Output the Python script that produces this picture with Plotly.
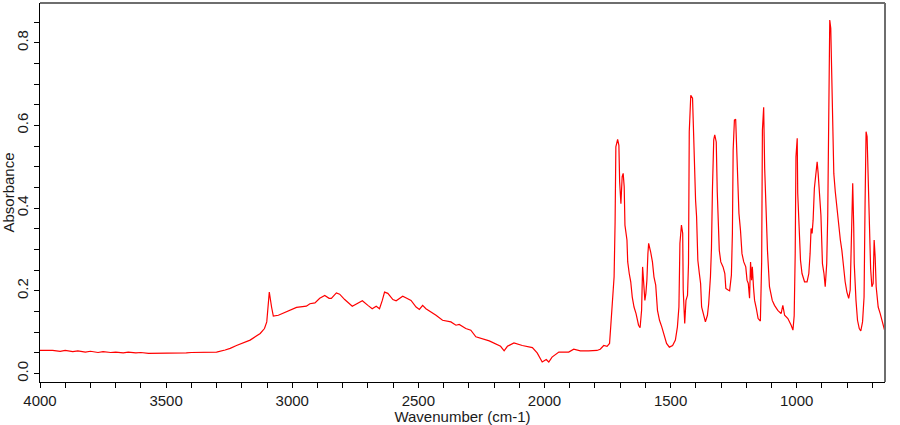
import plotly.graph_objects as go

wavenumber = [
    4000, 3950, 3920, 3900, 3870, 3850, 3820, 3800, 3770, 3750, 3720, 3700, 3670, 3650, 3620,
    3600, 3570, 3550, 3500, 3450, 3420, 3400, 3350, 3300, 3266,
    3246, 3221, 3167, 3127, 3110, 3101, 3095, 3091, 3082, 3075, 3055, 3022, 2983, 2944, 2930,
    2910, 2891, 2871, 2854, 2845, 2825, 2812, 2792, 2762, 2746, 2722, 2700, 2683, 2667, 2654,
    2643, 2634, 2621, 2601, 2588, 2562, 2546, 2529, 2509, 2496, 2483, 2470, 2430, 2404, 2371,
    2351, 2338, 2312, 2292, 2272, 2219, 2174, 2160, 2147, 2121, 2088, 2048, 2029, 2009, 1993,
    1983, 1970, 1943, 1904, 1884, 1858, 1825, 1792, 1779, 1765, 1752, 1742, 1737, 1730, 1724,
    1720, 1717, 1710, 1705, 1702, 1697, 1692, 1688, 1684, 1681, 1673, 1670, 1664, 1658, 1652,
    1645, 1637, 1627, 1621, 1615, 1611, 1607, 1602, 1598, 1594, 1590, 1587, 1579, 1572, 1566,
    1559, 1552, 1544, 1535, 1526, 1516, 1505, 1492, 1481, 1473, 1467, 1463, 1457, 1452, 1450,
    1444, 1439, 1433, 1429, 1426, 1420, 1413, 1410, 1406, 1401, 1397, 1392, 1386, 1381, 1377,
    1371, 1362, 1354, 1349, 1342, 1338, 1334, 1329, 1325, 1319, 1315, 1310, 1307, 1301, 1292,
    1285, 1281, 1272, 1266, 1259, 1255, 1252, 1247, 1242, 1238, 1232, 1229, 1223, 1217, 1210,
    1202, 1197, 1192, 1187, 1183, 1179, 1176, 1171, 1167, 1160, 1153, 1144, 1139, 1136, 1131,
    1127, 1121, 1116, 1108, 1097, 1088, 1075, 1062, 1055, 1048, 1035, 1022, 1015, 1010, 1006,
    1003, 998, 996, 990, 985, 979, 969, 959, 952, 947, 943, 939, 935, 930, 924,
    919, 915, 910, 904, 898, 892, 887, 881, 877, 873, 869, 865, 861, 857, 853,
    847, 840, 834, 827, 821, 814, 808, 801, 794, 788, 782, 778, 774, 772, 765,
    759, 752, 746, 739, 733, 729, 725, 721, 715, 711, 707, 702, 697, 693, 689,
    685, 677, 669, 660, 654, 650,
]

absorbance = [
    0.056, 0.056, 0.054, 0.056, 0.053, 0.055, 0.052, 0.054, 0.051, 0.053, 0.051, 0.052, 0.050, 0.052, 0.050,
    0.051, 0.049, 0.049, 0.049, 0.049, 0.050, 0.051, 0.051, 0.052, 0.057,
    0.061, 0.068, 0.081, 0.097, 0.109, 0.125, 0.170, 0.197, 0.161, 0.139, 0.141, 0.149, 0.160, 0.163, 0.169,
    0.171, 0.182, 0.189, 0.182, 0.182, 0.195, 0.192, 0.179, 0.163, 0.168, 0.176, 0.165, 0.157, 0.163, 0.157,
    0.177, 0.197, 0.194, 0.179, 0.176, 0.187, 0.182, 0.177, 0.161, 0.155, 0.165, 0.157, 0.141, 0.129, 0.125,
    0.117, 0.119, 0.109, 0.105, 0.089, 0.079, 0.066, 0.055, 0.066, 0.074, 0.068, 0.063, 0.050, 0.028, 0.034,
    0.028, 0.040, 0.052, 0.052, 0.059, 0.055, 0.055, 0.056, 0.059, 0.068, 0.066, 0.073, 0.117, 0.177, 0.234,
    0.367, 0.548, 0.566, 0.552, 0.464, 0.411, 0.476, 0.484, 0.452, 0.359, 0.323, 0.270, 0.242, 0.222, 0.185,
    0.161, 0.145, 0.117, 0.111, 0.153, 0.258, 0.210, 0.177, 0.194, 0.226, 0.290, 0.315, 0.294, 0.270, 0.234,
    0.214, 0.153, 0.129, 0.113, 0.093, 0.073, 0.064, 0.068, 0.081, 0.113, 0.161, 0.315, 0.359, 0.339, 0.202,
    0.121, 0.177, 0.189, 0.266, 0.585, 0.673, 0.666, 0.605, 0.500, 0.419, 0.380, 0.274, 0.242, 0.218, 0.161,
    0.145, 0.125, 0.141, 0.169, 0.234, 0.303, 0.448, 0.565, 0.577, 0.560, 0.439, 0.367, 0.298, 0.270, 0.258,
    0.242, 0.206, 0.202, 0.200, 0.238, 0.339, 0.540, 0.613, 0.615, 0.532, 0.460, 0.387, 0.347, 0.290, 0.270,
    0.258, 0.226, 0.218, 0.182, 0.270, 0.226, 0.258, 0.206, 0.177, 0.157, 0.133, 0.127, 0.270, 0.589, 0.644,
    0.496, 0.387, 0.298, 0.210, 0.177, 0.165, 0.153, 0.145, 0.165, 0.141, 0.133, 0.117, 0.105, 0.140, 0.290,
    0.524, 0.569, 0.436, 0.347, 0.274, 0.242, 0.222, 0.222, 0.242, 0.290, 0.351, 0.339, 0.371, 0.448, 0.492,
    0.512, 0.484, 0.427, 0.383, 0.266, 0.242, 0.210, 0.266, 0.383, 0.585, 0.855, 0.835, 0.710, 0.601, 0.484,
    0.439, 0.395, 0.363, 0.323, 0.298, 0.254, 0.222, 0.197, 0.182, 0.202, 0.323, 0.460, 0.355, 0.266, 0.177,
    0.129, 0.109, 0.103, 0.125, 0.185, 0.411, 0.585, 0.573, 0.419, 0.331, 0.254, 0.210, 0.218, 0.323, 0.282,
    0.210, 0.161, 0.145, 0.125, 0.109, 0.101,
]

y_tick_values = [0.0, 0.2, 0.4, 0.6, 0.8]
y_tick_labels = ["0.0", "0.2", "0.4", "0.6", "0.8"]
x_tick_values = [4000, 3500, 3000, 2500, 2000, 1500, 1000]
x_tick_labels = ["4000", "3500", "3000", "2500", "2000", "1500", "1000"]

FONT = "Liberation Sans, Arial, sans-serif"

fig = go.Figure()
fig.add_trace(go.Scatter(
    x=wavenumber, y=absorbance, mode="lines",
    line=dict(color="#ff0000", width=1.2),
    hoverinfo="skip", showlegend=False,
))

fig.update_layout(
    width=900, height=425,
    margin=dict(l=36, r=15, t=3, b=43),
    paper_bgcolor="white", plot_bgcolor="white",
    font=dict(family=FONT, size=15, color="#1a1a1a"),
    showlegend=False,
    shapes=[
        dict(type="line", xref="paper", yref="paper", x0=0, x1=1, y0=1, y1=1,
             line=dict(color="#6e6e6e", width=2)),
        dict(type="line", xref="paper", yref="paper", x0=1, x1=1, y0=0, y1=1,
             line=dict(color="#6e6e6e", width=2)),
    ],
)

fig.update_xaxes(
    range=[4000, 650],
    tickmode="array", tickvals=x_tick_values, ticktext=x_tick_labels,
    ticks="outside", ticklen=5, tickwidth=1, tickcolor="#000000",
    minor=dict(dtick=100, tick0=0, ticks="outside", ticklen=5, tickwidth=1, tickcolor="#000000"),
    showline=True, linecolor="#000000", linewidth=1.3,
    showgrid=False, zeroline=False,
    tickfont=dict(family=FONT, size=15, color="#1a1a1a"),
    title=dict(text="Wavenumber (cm-1)", font=dict(family=FONT, size=15, color="#1a1a1a"), standoff=2),
)

fig.update_yaxes(
    range=[-0.0203, 0.896],
    tickmode="array", tickvals=y_tick_values, ticktext=y_tick_labels,
    tickangle=-90,
    ticks="outside", ticklen=5, tickwidth=1, tickcolor="#000000",
    minor=dict(dtick=0.05, tick0=0, ticks="outside", ticklen=5, tickwidth=1, tickcolor="#000000"),
    showline=True, linecolor="#000000", linewidth=1.3,
    showgrid=False, zeroline=False,
    tickfont=dict(family=FONT, size=15, color="#1a1a1a"),
    title=dict(text="Absorbance", font=dict(family=FONT, size=15, color="#1a1a1a"), standoff=0),
)

fig.write_html("out.html")
